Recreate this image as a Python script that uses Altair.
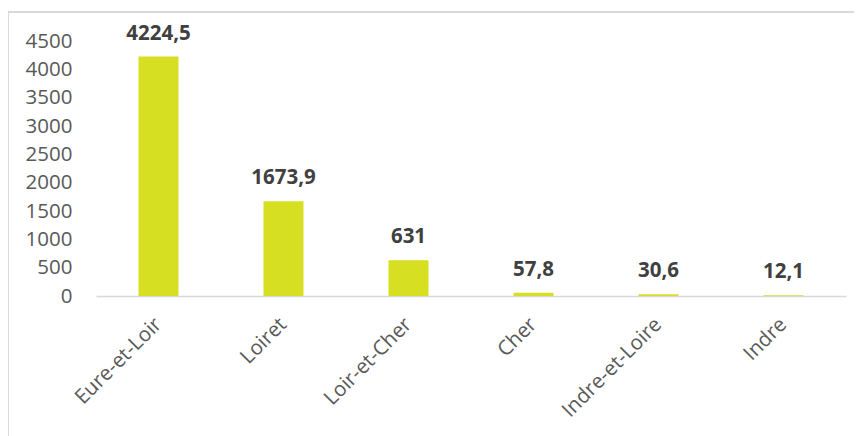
import altair as alt
import pandas as pd

departements = ["Eure-et-Loir", "Loiret", "Loir-et-Cher", "Cher", "Indre-et-Loire", "Indre"]
valeurs = [4224.5, 1673.9, 631, 57.8, 30.6, 12.1]
labels = [str(v).replace(".", ",") for v in valeurs]
y_ticks = [0, 500, 1000, 1500, 2000, 2500, 3000, 3500, 4000, 4500]

df = pd.DataFrame({"dep": departements, "val": valeurs, "lab": labels})

FONT = "Open Sans"

x_enc = alt.X("dep:N", sort=departements, title=None,
              scale=alt.Scale(paddingInner=0.68, paddingOuter=0.34),
              axis=alt.Axis(labelAngle=-45, labelAlign="right", labelBaseline="middle",
                            labelFontSize=20.5, labelColor="#595959", labelFont=FONT,
                            ticks=False, domainColor="#d9d9d9", domainWidth=1.5,
                            labelPadding=25, labelOverlap=False))
y_enc = alt.Y("val:Q", title=None,
              scale=alt.Scale(domain=[0, 4500], nice=False, zero=True),
              axis=alt.Axis(values=y_ticks, format="d", grid=False, ticks=False,
                            domain=False, labelFontSize=20.5, labelColor="#595959",
                            labelFont=FONT, labelPadding=24, labelFlush=False,
                            labelOverlap=False, tickCount=10))

bars = alt.Chart(df).mark_bar(color="#D6DF22").encode(x=x_enc, y=y_enc)

text = alt.Chart(df).mark_text(baseline="bottom", dy=-13, fontSize=20.5, fontWeight="bold",
                               color="#404040", font=FONT).encode(
    x=x_enc, y=y_enc, text="lab:N")

border_left = alt.Chart(df).mark_rule(color="#d9d9d9", strokeWidth=1.5).encode(
    x=alt.value(-88), y=alt.value(-29), y2=alt.value(440))
border_top = alt.Chart(df).mark_rule(color="#d9d9d9", strokeWidth=1.5).encode(
    x=alt.value(-88), x2=alt.value(800), y=alt.value(-29))

chart = alt.layer(bars, text, border_left, border_top).properties(
    width=750, height=255,
    autosize=alt.AutoSizeParams(type="none"),
    padding={"left": 88, "top": 33, "right": 8, "bottom": 140},
    background="white",
).configure_view(stroke=None)

chart.save("out.html", embed_options={"renderer": "svg", "actions": False})
